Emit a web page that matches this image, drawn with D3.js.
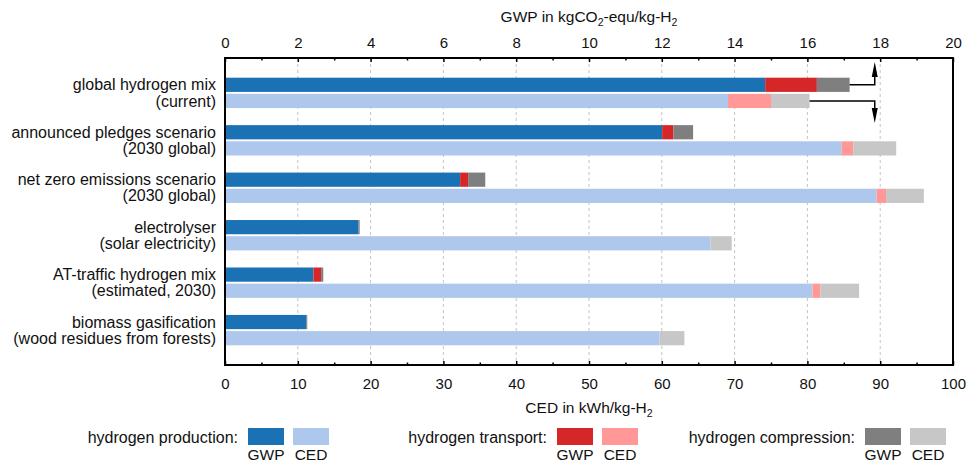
<!DOCTYPE html>
<html>
<head>
<meta charset="utf-8">
<script src="https://cdn.jsdelivr.net/npm/d3@7"></script>
<style>
  body { margin: 0; background: #fff; }
  svg { display: block; font-family: "Liberation Sans", Arial, sans-serif; }
</style>
</head>
<body>
<svg id="chart" width="978" height="465"></svg>
<script>
// ---------- data ----------
const labelLine1 = ["global hydrogen mix", "announced pledges scenario", "net zero emissions scenario",
                    "electrolyser", "AT-traffic hydrogen mix", "biomass gasification"];
const labelLine2 = ["(current)", "(2030 global)", "(2030 global)",
                    "(solar electricity)", "(estimated, 2030)", "(wood residues from forests)"];

const gwpProduction  = [14.84, 12.01, 6.46, 3.67, 2.43, 2.23];
const gwpTransport   = [1.42, 0.31, 0.22, 0.00, 0.21, 0.00];
const gwpCompression = [0.90, 0.54, 0.47, 0.03, 0.06, 0.03];

const cedProduction  = [69.1, 84.7, 89.5, 66.7, 80.7, 59.7];
const cedTransport   = [5.9, 1.6, 1.3, 0.0, 1.1, 0.0];
const cedCompression = [5.3, 5.9, 5.2, 2.9, 5.3, 3.4];

const stages = ["hydrogen production", "hydrogen transport", "hydrogen compression"];
const gwpColors = ["#1a71b3", "#d62728", "#7f7f7f"];
const cedColors = ["#aec7ec", "#ff9896", "#c7c7c7"];

const gwpTicks = [0, 2, 4, 6, 8, 10, 12, 14, 16, 18, 20];
const cedTicks = [0, 10, 20, 30, 40, 50, 60, 70, 80, 90, 100];
const arrowAtGwp = 17.85; // annotation arrow position (GWP units)

// ---------- layout ----------
const W = 978, H = 465;
const m = { top: 58, right: 25, bottom: 100, left: 225 };
const svg = d3.select("#chart");

const xG = d3.scaleLinear().domain([0, 20]).range([m.left, W - m.right]);
const xC = d3.scaleLinear().domain([0, 100]).range([m.left, W - m.right]);
const y = d3.scaleBand().domain(d3.range(labelLine1.length))
  .range([m.top, H - m.bottom]).paddingInner(0.36).paddingOuter(0.415);
const ySub = d3.scaleBand().domain(["GWP", "CED"]).range([0, y.bandwidth()]).paddingInner(0.12);

// grid
svg.append("g").selectAll("line")
  .data(cedTicks.slice(1, -1)).join("line")
  .attr("x1", d => xC(d)).attr("x2", d => xC(d))
  .attr("y1", m.top).attr("y2", H - m.bottom)
  .attr("stroke", "#c4c4c4").attr("stroke-width", 1).attr("stroke-dasharray", "3,3");

// stacked bars
function stackRows(a, b, c) {
  return a.map((v, i) => {
    const vals = [v, b[i], c[i]];
    let acc = 0;
    return vals.map((val, k) => { const s = acc; acc += val; return { i, k, x0: s, x1: acc }; });
  }).flat();
}
const gwpSegs = stackRows(gwpProduction, gwpTransport, gwpCompression);
const cedSegs = stackRows(cedProduction, cedTransport, cedCompression);

svg.append("g").selectAll("rect").data(gwpSegs.filter(d => d.x1 > d.x0)).join("rect")
  .attr("x", d => xG(d.x0)).attr("width", d => xG(d.x1) - xG(d.x0))
  .attr("y", d => y(d.i) + ySub("GWP")).attr("height", ySub.bandwidth())
  .attr("fill", d => gwpColors[d.k]);

svg.append("g").selectAll("rect").data(cedSegs.filter(d => d.x1 > d.x0)).join("rect")
  .attr("x", d => xC(d.x0)).attr("width", d => xC(d.x1) - xC(d.x0))
  .attr("y", d => y(d.i) + ySub("CED")).attr("height", ySub.bandwidth())
  .attr("fill", d => cedColors[d.k]);

// category labels
const lab = svg.append("g").attr("font-size", 16).attr("fill", "#111").attr("text-anchor", "end");
labelLine1.forEach((t, i) => {
  lab.append("text").attr("x", m.left - 9).attr("y", y(i) + ySub("GWP") + ySub.bandwidth() / 2)
    .attr("dy", "0.35em").text(t);
  lab.append("text").attr("x", m.left - 9).attr("y", y(i) + ySub("CED") + ySub.bandwidth() / 2)
    .attr("dy", "0.35em").text(labelLine2[i]);
});

// axes
const topAxis = svg.append("g").attr("transform", `translate(0,${m.top})`)
  .call(d3.axisTop(xG).tickValues(gwpTicks).tickSize(-4).tickPadding(10).tickFormat(d3.format("d")));
const topMinor = svg.append("g").attr("transform", `translate(0,${m.top})`)
  .call(d3.axisTop(xG).tickValues(d3.range(1, 20, 2)).tickSize(-2.5).tickFormat(""));
const botAxis = svg.append("g").attr("transform", `translate(0,${H - m.bottom})`)
  .call(d3.axisBottom(xC).tickValues(cedTicks).tickSize(-4).tickPadding(13).tickFormat(d3.format("d")));
const botMinor = svg.append("g").attr("transform", `translate(0,${H - m.bottom})`)
  .call(d3.axisBottom(xC).tickValues(d3.range(5, 100, 10)).tickSize(-2.5).tickFormat(""));
[topAxis, topMinor, botAxis, botMinor].forEach(g => {
  g.select(".domain").remove();
  g.selectAll(".tick line").attr("stroke", "#000").attr("stroke-width", 1.5);
  g.selectAll(".tick text").attr("font-size", 15).attr("fill", "#111")
    .attr("font-family", "\"Liberation Sans\", Arial, sans-serif");
});

// frame
svg.append("rect").attr("x", m.left).attr("y", m.top)
  .attr("width", W - m.left - m.right).attr("height", H - m.top - m.bottom)
  .attr("fill", "none").attr("stroke", "#000").attr("stroke-width", 2);

// axis titles
const cx = (m.left + W - m.right) / 2;
const t1 = svg.append("text").attr("x", cx).attr("y", 22).attr("text-anchor", "middle")
  .attr("font-size", 15.5).attr("fill", "#111");
t1.append("tspan").text("GWP in kgCO");
t1.append("tspan").attr("font-size", 10.5).attr("dy", 4).text("2");
t1.append("tspan").attr("dy", -4).text("-equ/kg-H");
t1.append("tspan").attr("font-size", 10.5).attr("dy", 4).text("2");

const t2 = svg.append("text").attr("x", cx).attr("y", 413).attr("text-anchor", "middle")
  .attr("font-size", 15.5).attr("fill", "#111");
t2.append("tspan").text("CED in kWh/kg-H");
t2.append("tspan").attr("font-size", 10.5).attr("dy", 4).text("2");

// annotation arrows (row 0)
const gEnd = xG(d3.sum([gwpProduction[0], gwpTransport[0], gwpCompression[0]]));
const cEnd = xC(d3.sum([cedProduction[0], cedTransport[0], cedCompression[0]]));
const ax = xG(arrowAtGwp);
const gY = y(0) + ySub("GWP") + ySub.bandwidth() / 2;
const cY = y(0) + ySub("CED") + ySub.bandwidth() / 2;
const arr = svg.append("g");
arr.append("path").attr("d", `M${gEnd},${gY}H${ax}V${m.top + 16}`).attr("fill", "none")
  .attr("stroke", "#000").attr("stroke-width", 1.5);
arr.append("path").attr("d", `M${ax},${m.top + 4}L${ax - 3},${m.top + 19}L${ax + 3},${m.top + 19}Z`).attr("fill", "#000");
arr.append("path").attr("d", `M${cEnd},${cY}H${ax}V${cY + 10}`).attr("fill", "none")
  .attr("stroke", "#000").attr("stroke-width", 1.5);
arr.append("path").attr("d", `M${ax},${cY + 22}L${ax - 3},${cY + 7}L${ax + 3},${cY + 7}Z`).attr("fill", "#000");

// legend
const legendTextRight = [238, 547, 855];
const lg = svg.append("g").attr("font-size", 16).attr("fill", "#111");
stages.forEach((s, k) => {
  const xr = legendTextRight[k];
  lg.append("text").attr("x", xr).attr("y", 437).attr("dy", "0.35em")
    .attr("text-anchor", "end").text(s + ":");
  [[gwpColors[k], "GWP", xr + 10], [cedColors[k], "CED", xr + 55]].forEach(([c, t, x0]) => {
    lg.append("rect").attr("x", x0).attr("y", 428).attr("width", 36).attr("height", 17).attr("fill", c);
    lg.append("text").attr("x", x0 + 18).attr("y", 454.5).attr("dy", "0.35em")
      .attr("font-size", 15.5).attr("text-anchor", "middle").text(t);
  });
});
</script>
</body>
</html>
